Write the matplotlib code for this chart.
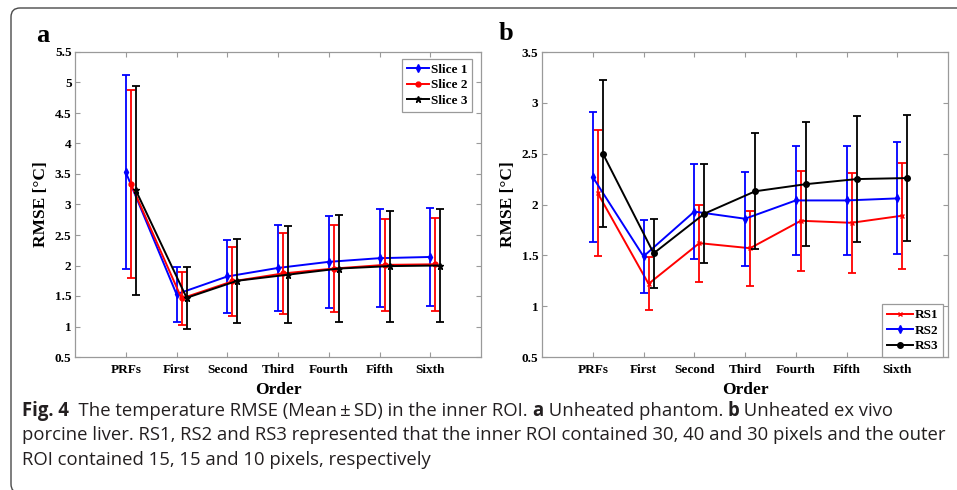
import matplotlib
matplotlib.use("Agg")
import matplotlib.pyplot as plt
import numpy as np
from matplotlib.patches import FancyBboxPatch

# ---------------- data ----------------
categories = ["PRFs", "First", "Second", "Third", "Fourth", "Fifth", "Sixth"]

slice1_mean = [3.53, 1.53, 1.82, 1.96, 2.06, 2.12, 2.14]
slice1_sd   = [1.59, 0.45, 0.60, 0.70, 0.75, 0.80, 0.80]
slice2_mean = [3.34, 1.46, 1.74, 1.87, 1.95, 2.01, 2.02]
slice2_sd   = [1.54, 0.43, 0.57, 0.67, 0.72, 0.76, 0.76]
slice3_mean = [3.23, 1.47, 1.75, 1.85, 1.95, 1.99, 2.00]
slice3_sd   = [1.72, 0.51, 0.69, 0.80, 0.87, 0.91, 0.92]

rs1_mean = [2.11, 1.22, 1.62, 1.57, 1.84, 1.82, 1.89]
rs1_sd   = [0.62, 0.26, 0.38, 0.37, 0.49, 0.49, 0.52]
rs2_mean = [2.27, 1.49, 1.93, 1.86, 2.04, 2.04, 2.06]
rs2_sd   = [0.64, 0.36, 0.47, 0.46, 0.54, 0.54, 0.55]
rs3_mean = [2.50, 1.52, 1.91, 2.13, 2.20, 2.25, 2.26]
rs3_sd   = [0.72, 0.34, 0.49, 0.57, 0.61, 0.62, 0.62]

yticks_a = [0.5, 1, 1.5, 2, 2.5, 3, 3.5, 4, 4.5, 5, 5.5]
yticks_b = [0.5, 1, 1.5, 2, 2.5, 3, 3.5]

caption_lines = [
    [("Fig. 4", True),
     ("  The temperature RMSE (Mean\u2009\u00b1\u2009SD) in the inner ROI. ", False),
     ("a", True), (" Unheated phantom. ", False),
     ("b", True), (" Unheated ex vivo", False)],
    [("porcine liver. RS1, RS2 and RS3 represented that the inner ROI contained "
      "30, 40 and 30 pixels and the outer", False)],
    [("ROI contained 15, 15 and 10 pixels, respectively", False)],
]

# ---------------- figure ----------------
W, H = 957, 490
fig = plt.figure(figsize=(W / 100, H / 100), dpi=100)

# rounded frame in display pixels (extends past right and bottom edges)
frame = FancyBboxPatch((11, -3), 1100, H - 8 + 3,
                       boxstyle="round,pad=0,rounding_size=9",
                       transform=None, facecolor="none",
                       edgecolor="#4a4a4a", linewidth=1.0)
fig.patches.append(frame)

SERIF = "Liberation Serif"
spine_col = "#9a9a9a"

def px_rect(l, r, t, b):
    return [l / W, (H - b) / H, (r - l) / W, (b - t) / H]

def style_axes(ax, yticks, ylim):
    x = np.arange(1, len(categories) + 1)
    ax.set_xlim(0, len(categories) + 1)
    ax.set_ylim(*ylim)
    ax.set_xticks(x)
    ax.set_xticklabels(categories, fontfamily=SERIF, fontweight="bold", fontsize=9.5)
    ax.set_yticks(yticks)
    ax.set_yticklabels([("%g" % v) for v in yticks], fontfamily=SERIF,
                       fontweight="bold", fontsize=9.5)
    ax.tick_params(direction="in", length=3.5, width=0.8, color=spine_col,
                   top=True, right=True)
    ax.tick_params(axis="y", pad=2.5)
    ax.tick_params(axis="x", pad=5)
    for s in ax.spines.values():
        s.set_color(spine_col)
        s.set_linewidth(0.9)
    ax.set_xlabel("Order", fontfamily=SERIF, fontweight="bold", fontsize=12.5, labelpad=4.5)
    ax.set_ylabel("RMSE [°C]", fontfamily=SERIF, fontweight="bold", fontsize=12.5, labelpad=4)

def draw_series(ax, mean, sd, off, color, marker, ms, label):
    x = np.arange(1, len(categories) + 1) + off
    ax.errorbar(x, mean, yerr=sd, fmt="none", ecolor=color, elinewidth=1.3,
                capsize=2.8, capthick=1.3)
    ax.plot(x, mean, color=color, lw=1.4, marker=marker, ms=ms, label=label)

def make_legend(ax, loc, anchor, hl):
    lg = ax.legend(loc=loc, bbox_to_anchor=anchor, borderaxespad=0,
                   prop={"family": SERIF, "weight": "bold", "size": 9.5},
                   handlelength=hl, handletextpad=0.15, labelspacing=0.25,
                   borderpad=0.35, fancybox=False, framealpha=1)
    lg.get_frame().set_edgecolor(spine_col)
    lg.get_frame().set_linewidth(0.9)
    return lg

# ---- panel a ----
axa = fig.add_axes(px_rect(75, 481, 52, 357))
draw_series(axa, slice1_mean, slice1_sd, 0.0, "#0000ff", "d", 4, "Slice 1")
draw_series(axa, slice2_mean, slice2_sd, 0.1, "#ff0000", "o", 3.5, "Slice 2")
draw_series(axa, slice3_mean, slice3_sd, 0.2, "#000000", "*", 5, "Slice 3")
style_axes(axa, yticks_a, (0.5, 5.5))
make_legend(axa, "upper right", (0.978, 0.977), 1.7)

# ---- panel b ----
axb = fig.add_axes(px_rect(542, 948, 52, 357))
draw_series(axb, rs1_mean, rs1_sd, 0.1, "#ff0000", "x", 3.5, "RS1")
draw_series(axb, rs2_mean, rs2_sd, 0.0, "#0000ff", "d", 4, "RS2")
draw_series(axb, rs3_mean, rs3_sd, 0.2, "#000000", "o", 4, "RS3")
style_axes(axb, yticks_b, (0.5, 3.5))
make_legend(axb, "lower right", (0.988, 0.0), 2.0)

# panel letters
fig.text(36 / W, 1 - 36 / H, "a", fontfamily=SERIF, fontweight="bold", fontsize=19,
         ha="left", va="center")
fig.text(499 / W, 1 - 34 / H, "b", fontfamily=SERIF, fontweight="bold", fontsize=19,
         ha="left", va="center")

# ---------------- caption ----------------
CAP_FONT = ["Open Sans", "DejaVu Sans"]
renderer = fig.canvas.get_renderer()

# fit the font size so the longest line spans the caption width
probe = fig.text(0, 0, caption_lines[1][0][0], fontfamily=CAP_FONT, fontsize=12)
w12 = probe.get_window_extent(renderer).width
probe.remove()
cap_size = 12 * (945 - 22) / w12

def caption_line(y_px, pieces):
    x = 22 / W
    for s, bold in pieces:
        t = fig.text(x, 1 - y_px / H, s, fontfamily=CAP_FONT,
                     fontweight="bold" if bold else "normal",
                     fontsize=cap_size,
                     ha="left", va="center", color="#231f20")
        bb = t.get_window_extent(renderer)
        x = bb.x1 / W

for y_px, pieces in zip([411, 435, 460], caption_lines):
    caption_line(y_px, pieces)

fig.savefig("out.png", dpi=100)
